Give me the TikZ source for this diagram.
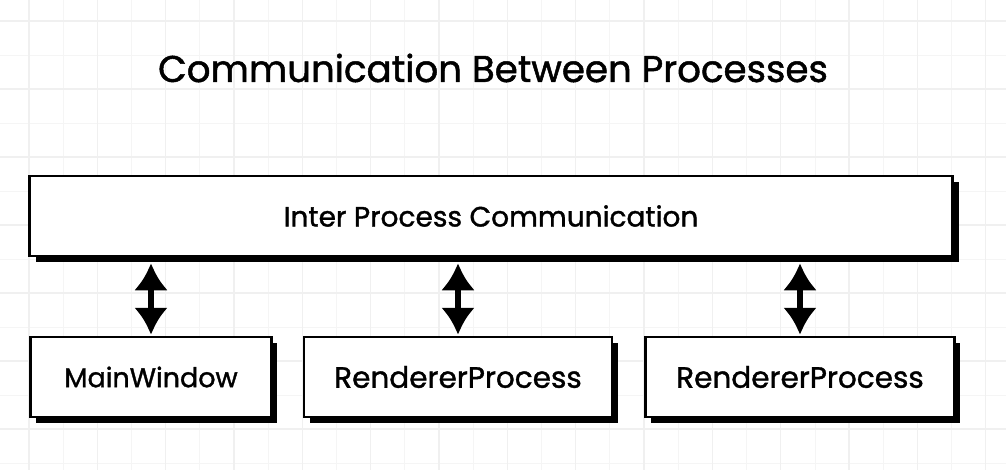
\documentclass[tikz,border=0pt]{standalone}
\usepackage{fontspec}
\setmainfont{Poppins}
\newfontfamily\medfont{Poppins}[FakeBold=1.3]
\usetikzlibrary{arrows.meta}
\begin{document}
\begin{tikzpicture}[x=1pt,y=-1pt,
  box/.style={draw=black,fill=white,line width=2.5pt,minimum height=80pt,inner sep=0pt},
  shadowbox/.style={fill=black},
  link/.style={line width=5.5pt,{Latex[length=27pt,width=34pt]}-{Latex[length=27pt,width=34pt]}},
  minorgrid/.style={draw=black!4,line width=0.8pt},
  majorgrid/.style={draw=black!6,line width=1.2pt}]
\useasboundingbox (0,0) rectangle (1006,470);
\fill[white] (0,0) rectangle (1006,470);
% grid
\foreach \i in {-1,...,29} {
  \draw[minorgrid] ({29+34.17*\i},0) -- ({29+34.17*\i},470);
}
\foreach \j in {-1,...,14} {
  \draw[minorgrid] (0,{21+34*\j}) -- (1006,{21+34*\j});
}
\foreach \i in {0,...,14} {
  \draw[majorgrid] ({29+68.33*\i},0) -- ({29+68.33*\i},470);
}
\foreach \j in {0,...,6} {
  \draw[majorgrid] (0,{21+68*\j}) -- (1006,{21+68*\j});
}
% title
\node[font=\medfont\fontsize{37.2}{40}\selectfont] (title) at (493,68) {Communication Between Processes};
% boxes
\fill[shadowbox] (36,182) rectangle (959,262);
\node[box,minimum width=923pt,font=\medfont\fontsize{28}{30}\selectfont] (ipc) at (491,216) {Inter Process Communication};
\fill[shadowbox] (36,343) rectangle (277,423);
\node[box,minimum width=241pt,font=\medfont\fontsize{27}{30}\selectfont] (main) at (151,377) {MainWindow};
\fill[shadowbox] (310,343) rectangle (618,423);
\node[box,minimum width=308pt,font=\medfont\fontsize{29.5}{30}\selectfont] (r1) at (458,377) {RendererProcess};
\fill[shadowbox] (651,343) rectangle (960,423);
\node[box,minimum width=309pt,font=\medfont\fontsize{29.5}{30}\selectfont] (r2) at (800,377) {RendererProcess};
% connectors
\draw[link] ([yshift=-6pt]ipc.south -| main.north) -- ([yshift=1pt]main.north);
\draw[link] ([yshift=-6pt]ipc.south -| r1.north) -- ([yshift=1pt]r1.north);
\draw[link] ([yshift=-6pt]ipc.south -| r2.north) -- ([yshift=1pt]r2.north);
\end{tikzpicture}
\end{document}
